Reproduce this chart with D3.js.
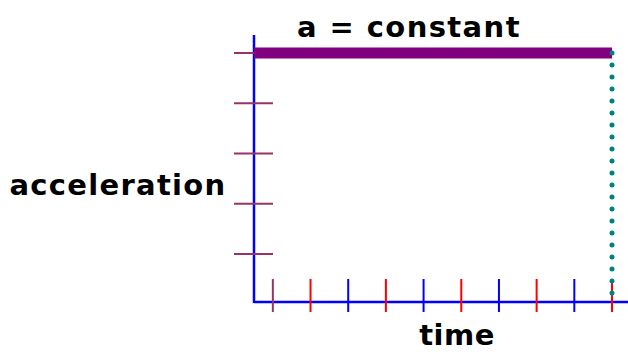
<!DOCTYPE html>
<html><head><meta charset="utf-8">
<script src="https://cdn.jsdelivr.net/npm/d3@7"></script>
<style>body{margin:0;background:#fff}svg{display:block}text{font-family:"DejaVu Sans",sans-serif;font-weight:bold;fill:#000}</style>
</head><body>
<script>
const timeTicks = [1,2,3,4,5,6,7,8,9,10];
const timeTickColors = ["#993366","red","blue","red","blue","red","blue","red","blue","red"];
const accelTicks = [1,2,3,4,5];
const seriesTime = [0.5, 10];
const seriesAccel = [5, 5];
const title = "a = constant", xLabel = "time", yLabel = "acceleration";

const W=628,H=352;
const svg=d3.select("body").append("svg").attr("width",W).attr("height",H);
const x=d3.scaleLinear().domain([0.5,10]).range([254,612]);
const y=d3.scaleLinear().domain([1,5]).range([254,53]);
const y0=302;

// axes
svg.append("line").attr("x1",x(0.5)).attr("x2",W).attr("y1",y0).attr("y2",y0).attr("stroke","blue").attr("stroke-width",2.5);
svg.append("line").attr("x1",x(0.5)).attr("x2",x(0.5)).attr("y1",y(5.36)).attr("y2",y0+1).attr("stroke","blue").attr("stroke-width",2.5);

svg.selectAll(".xt").data(timeTicks).join("line")
 .attr("x1",d=>x(d)).attr("x2",d=>x(d)).attr("y1",y0-23).attr("y2",y0+10)
 .attr("stroke",(d,i)=>timeTickColors[i]).attr("stroke-width",2);
svg.selectAll(".yt").data(accelTicks).join("line")
 .attr("x1",x(0.5)-20).attr("x2",x(0.5)+19).attr("y1",d=>y(d)).attr("y2",d=>y(d))
 .attr("stroke","#993366").attr("stroke-width",2);

// constant line
const pts=seriesTime.map((t,i)=>[x(t),y(seriesAccel[i])]);
svg.append("path").attr("d",d3.line()(pts)).attr("stroke","#800080").attr("stroke-width",11).attr("fill","none");

// dotted drop line
const last=seriesTime.length-1;
const xd=x(seriesTime[last]), yt=y(seriesAccel[last]);
svg.append("line").attr("x1",xd).attr("x2",xd).attr("y1",yt).attr("y2",y0+1)
 .attr("stroke","#008080").attr("stroke-width",5).attr("stroke-linecap","round").attr("stroke-dasharray","0 12");

svg.append("text").attr("x",409).attr("y",37).attr("text-anchor","middle").attr("font-size",29).attr("letter-spacing",1.4).text(title);
svg.append("text").attr("x",118).attr("y",195).attr("text-anchor","middle").attr("font-size",29).attr("letter-spacing",1.3).text(yLabel);
svg.append("text").attr("x",457).attr("y",345).attr("text-anchor","middle").attr("font-size",29).attr("letter-spacing",0.5).text(xLabel);
</script>
</body></html>
